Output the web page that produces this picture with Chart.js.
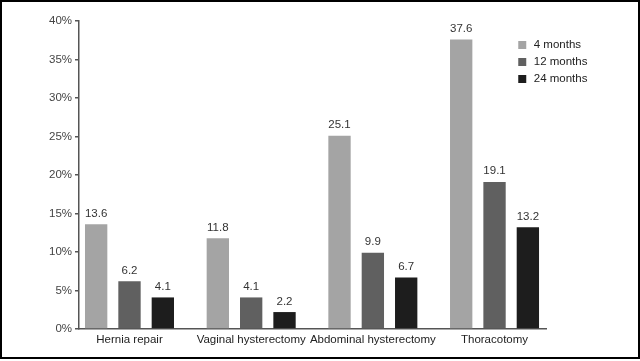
<!DOCTYPE html>
<html><head><meta charset="utf-8">
<script src="https://cdn.jsdelivr.net/npm/chart.js@4"></script>
<style>
html,body{margin:0;padding:0;background:#fff;}
#wrap{position:relative;width:640px;height:361px;}
#frame{position:absolute;left:0;top:0;width:636px;height:355px;border:2px solid #000;pointer-events:none;}
canvas{position:absolute;left:0;top:0;}
</style></head><body>
<div id="wrap"><canvas id="c" width="640" height="361"></canvas><div id="frame"></div></div>
<script>
const categories = ['Hernia repair', 'Vaginal hysterectomy', 'Abdominal hysterectomy', 'Thoracotomy'];
const seriesLabels = ['4 months', '12 months', '24 months'];
const months4 = [13.6, 11.8, 25.1, 37.6];
const months12 = [6.2, 4.1, 9.9, 19.1];
const months24 = [4.1, 2.2, 6.7, 13.2];
const yTicks = [0, 5, 10, 15, 20, 25, 30, 35, 40];
const seriesColors = ['#a4a4a4', '#606060', '#1d1d1d'];

Chart.defaults.font.family = '"Liberation Sans", Arial, sans-serif';
Chart.defaults.font.size = 11.5;

const seriesValues = [months4, months12, months24];
const datasets = seriesValues.map((vals, si) => ({
  label: seriesLabels[si],
  data: vals.map((v, i) => ({x: i, y: v})),
  backgroundColor: seriesColors[si],
  borderWidth: 0,
  categoryPercentage: 0.822,
  barPercentage: 0.67
}));

const valueLabels = {
  id: 'valueLabels',
  afterDatasetsDraw(chart) {
    const ctx = chart.ctx;
    ctx.save();
    ctx.font = '11.5px "Liberation Sans", Arial, sans-serif';
    ctx.fillStyle = '#333';
    ctx.textAlign = 'center';
    ctx.textBaseline = 'alphabetic';
    chart.data.datasets.forEach((ds, di) => {
      chart.getDatasetMeta(di).data.forEach((el, i) => {
        ctx.fillText(ds.data[i].y.toFixed(1), el.x, el.y - 7.5);
      });
    });
    ctx.restore();
  }
};

const legendPlace = {
  id: 'legendPlace',
  afterLayout(chart) {
    const l = chart.legend;
    if (!l) return;
    const w = l.width, h = l.height;
    l.left = 511; l.top = 33.75;
    l.right = l.left + w; l.bottom = l.top + h;
  }
};

new Chart(document.getElementById('c'), {
  type: 'bar',
  data: {datasets},
  plugins: [valueLabels, legendPlace],
  options: {
    responsive: false,
    animation: false,
    layout: {padding: {left: 0, right: 94, top: 21, bottom: 0}},
    plugins: {
      tooltip: {enabled: false},
      legend: {
        position: 'chartArea',
        align: 'start',
        labels: {
          usePointStyle: true,
          pointStyle: 'rect',
          boxWidth: 11.5,
          boxHeight: 8,
          padding: 5.5,
          color: '#222',
          font: {size: 11.5}
        }
      }
    },
    scales: {
      x: {
        type: 'linear',
        offset: false,
        min: -0.415,
        max: 3.423,
        afterBuildTicks: s => { s.ticks = categories.map((c, i) => ({value: i})); },
        ticks: {
          callback: v => categories[v],
          color: '#222',
          padding: 4,
          autoSkip: false,
          maxRotation: 0,
          font: {size: 11.5}
        },
        grid: {display: false, drawTicks: false},
        border: {display: true, color: '#555', width: 1.5},
        afterFit: s => { s.height = 32; }
      },
      y: {
        min: 0,
        max: 40,
        afterBuildTicks: s => { s.ticks = yTicks.map(v => ({value: v})); },
        ticks: {
          callback: v => v + '%',
          color: '#444',
          padding: 3,
          font: {size: 11.5}
        },
        grid: {drawOnChartArea: false, drawTicks: true, tickLength: 4, color: '#555', lineWidth: 1.5},
        border: {display: true, color: '#555', width: 1.5},
        afterFit: s => { s.width = 79; }
      }
    }
  }
});
</script>
</body></html>
